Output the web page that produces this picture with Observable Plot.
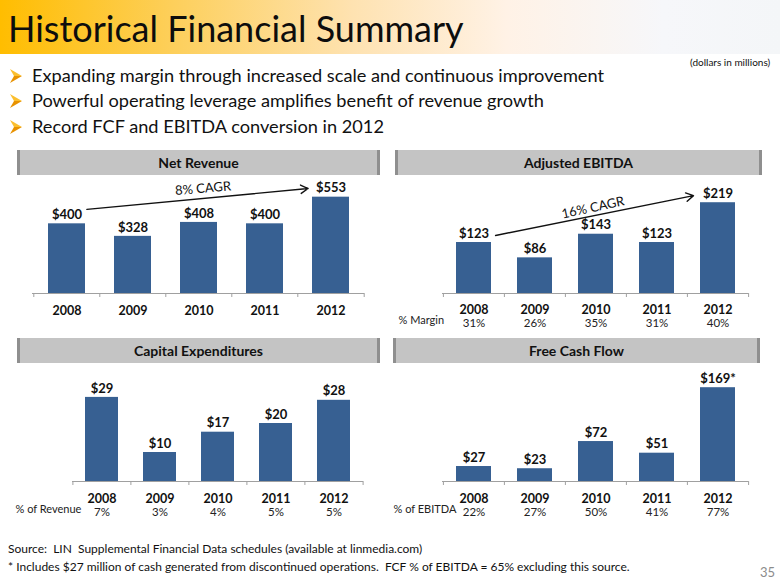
<!DOCTYPE html>
<html>
<head>
<meta charset="utf-8">
<script src="https://cdn.jsdelivr.net/npm/d3@7"></script>
<script src="https://cdn.jsdelivr.net/npm/@observablehq/plot@0.6"></script>
<style>
  html, body { margin: 0; padding: 0; background: #fff; }
  #slide { position: relative; width: 780px; height: 585px; overflow: hidden; font-family: Lato, "Open Sans", sans-serif; color: #111; }
  .abs { position: absolute; white-space: nowrap; }
  #band { left: 0; top: 0; width: 780px; height: 54px;
    background: linear-gradient(to right, #ffbd00 0%, #fdcf5a 22%, #fee2b0 45%, #fff2e6 65%, #f6f7fa 85%, #f4f6f8 100%); }
  #title { left: 8px; top: 5px; font-size: 36px; line-height: 46px; color: #0d0d0d; }
  .bullet { left: 10px; font-size: 18.2px; line-height: 22px; color: #111; }
  .bullet svg { display: inline-block; vertical-align: -1px; margin-right: 10px; }
  #units { left: 690px; top: 55px; font-size: 10px; line-height: 14px; }
  .hdr { position: absolute; height: 25px; background: #c4c4c4; border-left: 3px solid #8f8f8f; border-right: 3px solid #8f8f8f;
    box-sizing: border-box; text-align: center; font-weight: bold; font-size: 14px; line-height: 25px; color: #111; }
  .panel { position: absolute; }
  .foot { left: 8px; font-size: 12px; line-height: 16px; }
  #page { left: 760px; top: 564px; font-size: 13px; color: #8c8c8c; }
</style>
</head>
<body>
<div id="slide">
  <div id="band" class="abs"></div>
  <div id="title" class="abs">Historical Financial Summary</div>
  <div id="units" class="abs">(dollars in millions)</div>
  <div class="abs bullet" style="top:64px"><svg width="12" height="14" viewBox="0 0 12 14"><polygon points="0,0 12,7 4,7" fill="#fbbf2e"/><polygon points="0,14 12,7 4,7" fill="#e89200"/></svg>Expanding margin through increased scale and continuous improvement</div>
  <div class="abs bullet" style="top:89px"><svg width="12" height="14" viewBox="0 0 12 14"><polygon points="0,0 12,7 4,7" fill="#fbbf2e"/><polygon points="0,14 12,7 4,7" fill="#e89200"/></svg>Powerful operating leverage amplifies benefit of revenue growth</div>
  <div class="abs bullet" style="top:115px"><svg width="12" height="14" viewBox="0 0 12 14"><polygon points="0,0 12,7 4,7" fill="#fbbf2e"/><polygon points="0,14 12,7 4,7" fill="#e89200"/></svg>Record FCF and EBITDA conversion in 2012</div>

  <div class="hdr" style="left:17px; top:150px; width:363px;">Net Revenue</div>
  <div class="hdr" style="left:395px; top:150px; width:367px;">Adjusted EBITDA</div>
  <div class="hdr" style="left:17px; top:338px; width:363px;">Capital Expenditures</div>
  <div class="hdr" style="left:393px; top:338px; width:367px;">Free Cash Flow</div>

  <div id="p1" class="panel" style="left:0px; top:178px;"></div>
  <div id="p2" class="panel" style="left:390px; top:178px;"></div>
  <div id="p3" class="panel" style="left:0px; top:366px;"></div>
  <div id="p4" class="panel" style="left:390px; top:366px;"></div>

  <div class="abs foot" style="top:541px">Source:&nbsp; LIN&nbsp; Supplemental Financial Data schedules (available at linmedia.com)</div>
  <div class="abs foot" style="top:559px">* Includes $27 million of cash generated from discontinued operations.&nbsp; FCF % of EBITDA = 65% excluding this source.</div>
  <div id="page" class="abs">35</div>
</div>
<script>
// ---- data ----
const years = ["2008", "2009", "2010", "2011", "2012"];
const netRevenue = [400, 328, 408, 400, 553];
const netRevenueLabels = ["$400", "$328", "$408", "$400", "$553"];
const adjEbitda = [123, 86, 143, 123, 219];
const adjEbitdaLabels = ["$123", "$86", "$143", "$123", "$219"];
const ebitdaMargin = ["31%", "26%", "35%", "31%", "40%"];
const capex = [29, 10, 17, 20, 28];
const capexLabels = ["$29", "$10", "$17", "$20", "$28"];
const capexPctRevenue = ["7%", "3%", "4%", "5%", "5%"];
const fcf = [27, 23, 72, 51, 169];
const fcfLabels = ["$27", "$23", "$72", "$51", "$169*"];
const fcfPctEbitda = ["22%", "27%", "50%", "41%", "77%"];
const revenueCagr = "8% CAGR";
const ebitdaCagr = "16% CAGR";

// ---- styles ----
const barColor = "#376092";
const axisColor = "#a0a0a0";
const font = "Lato, 'Open Sans', sans-serif";

function panel(el, o) {
  const W = 390;
  const data = years.map((y, i) => ({year: y, value: o.values[i], label: o.labels[i], pct: o.pct ? o.pct[i] : null}));
  const plotH = o.height - o.mb;
  const pxPerUnit = plotH / o.ymax;
  const step = (W - o.ml - o.mr) / years.length;
  const tickLen = 4 / pxPerUnit;
  const marks = [
    Plot.barY(data, {x: "year", y: "value", fill: barColor}),
    Plot.ruleY([0], {stroke: axisColor, strokeWidth: 1}),
    Plot.ruleX(years, {x: d => d, y1: 0, y2: -tickLen, dx: -step / 2, stroke: axisColor}),
    Plot.ruleX([years[years.length - 1]], {x: d => d, y1: 0, y2: -tickLen, dx: step / 2, stroke: axisColor}),
    Plot.text(data, {x: "year", y: "value", text: "label", dy: -9, fontWeight: "bold", fontSize: 13, fill: "#111"}),
    Plot.text(data, {x: "year", y: 0, text: "year", dy: o.yearDy, fontWeight: "bold", fontSize: 12.5, fill: "#111"})
  ];
  if (o.pct) {
    marks.push(Plot.text(data, {x: "year", y: 0, text: "pct", dy: o.pctDy, fontSize: 11.5, fill: "#222"}));
    marks.push(Plot.text([o.pctLabel], {frameAnchor: "bottom-left", text: d => d, dx: o.pctLabelX - o.ml, dy: o.pctDy, textAnchor: "start", fontSize: 11, fill: "#222"}));
  }
  if (o.arrow) {
    const a = o.arrow;
    marks.push(Plot.arrow([a], {x1: () => years[0], x2: () => years[4], y1: () => a.y1, y2: () => a.y2,
      insetStart: a.insetStart, insetEnd: a.insetEnd, stroke: "#111", strokeWidth: 1.4, headLength: 9, bend: 0}));
    marks.push(Plot.text([a], {x: () => years[2], y: () => a.ty, text: () => a.text, rotate: a.rotate, fontSize: 13, fill: "#111", dx: a.tdx || 0}));
  }
  const chart = Plot.plot({
    width: W, height: o.height,
    marginLeft: o.ml, marginRight: o.mr, marginTop: 0, marginBottom: o.mb,
    style: {fontFamily: font, background: "transparent", overflow: "visible"},
    x: {domain: years, axis: null, paddingInner: o.pad, paddingOuter: o.pad / 2},
    y: {domain: [0, o.ymax], axis: null},
    marks
  });
  document.getElementById(el).appendChild(chart);
}

panel("p1", {values: netRevenue, labels: netRevenueLabels, height: 150, mb: 35, ml: 32, mr: 26, ymax: 115 / 0.1742, pad: 0.443, yearDy: 17,
  arrow: {y1: 472, y2: 615, insetStart: 20, insetEnd: 23, text: revenueCagr, ty: 603, rotate: -5, tdx: 4}});
panel("p2", {values: adjEbitda, labels: adjEbitdaLabels, height: 150, mb: 35, ml: 52, mr: 32, ymax: 115 / 0.4145, pad: 0.428, yearDy: 16,
  pct: ebitdaMargin, pctLabel: "% Margin", pctLabelX: 8, pctDy: 30,
  arrow: {y1: 129.6, y2: 248, insetStart: 22, insetEnd: 25, text: ebitdaCagr, ty: 207, rotate: -12, tdx: -3}});
panel("p3", {values: capex, labels: capexLabels, height: 150, mb: 35, ml: 72, mr: 27, ymax: 115 / 2.9, pad: 0.433, yearDy: 17,
  pct: capexPctRevenue, pctLabel: "% of Revenue", pctLabelX: 15, pctDy: 31});
panel("p4", {values: fcf, labels: fcfLabels, height: 150, mb: 35, ml: 52, mr: 32, ymax: 115 / 0.555, pad: 0.428, yearDy: 17,
  pct: fcfPctEbitda, pctLabel: "% of EBITDA", pctLabelX: 3, pctDy: 31});
</script>
</body>
</html>
